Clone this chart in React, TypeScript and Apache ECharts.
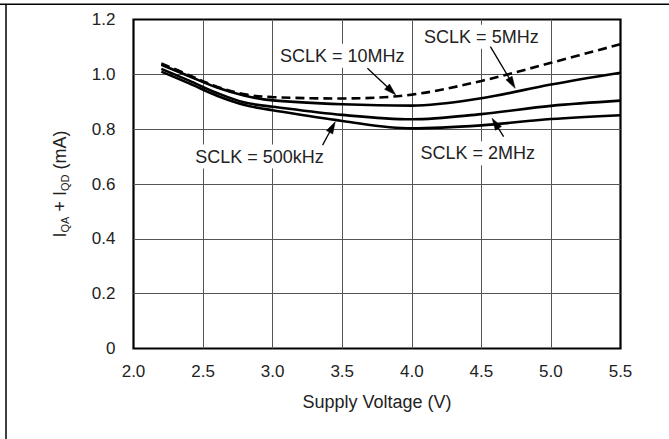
import React, { useEffect, useRef } from "react";
import * as echarts from "echarts";

const voltage = [2.2, 2.4, 2.6, 2.8, 3.0, 3.5, 4.0, 4.5, 5.0, 5.5];
const sclk10MHz = [1.04, 0.997, 0.955, 0.927, 0.917, 0.912, 0.926, 0.976, 1.042, 1.11];
const sclk5MHz = [1.035, 0.993, 0.952, 0.922, 0.905, 0.891, 0.886, 0.913, 0.963, 1.006];
const sclk2MHz = [1.02, 0.977, 0.932, 0.897, 0.882, 0.852, 0.836, 0.855, 0.885, 0.904];
const sclk500kHz = [1.01, 0.967, 0.922, 0.888, 0.869, 0.83, 0.803, 0.814, 0.837, 0.851];

const xTicks = [2.0, 2.5, 3.0, 3.5, 4.0, 4.5, 5.0, 5.5];
const yTicks = [0, 0.2, 0.4, 0.6, 0.8, 1.0, 1.2];

const annotations = [
  { text: "SCLK = 10MHz", label: [3.5, 1.068], tail: [3.681, 1.022], tip: [3.885, 0.925] },
  { text: "SCLK = 5MHz", label: [4.5, 1.137], tail: [4.565, 1.101], tip: [4.743, 0.949] },
  { text: "SCLK = 2MHz", label: [4.474, 0.712], tail: [4.66, 0.773], tip: [4.577, 0.84] },
  { text: "SCLK = 500kHz", label: [2.906, 0.7], tail: [3.359, 0.742], tip: [3.45, 0.827] },
];

const FONT = "'Liberation Sans', Arial, Helvetica, sans-serif";

function pairs(ys: number[]) {
  return voltage.map((v, i) => [v, ys[i]]);
}

export default function App() {
  const ref = useRef<HTMLDivElement>(null);
  useEffect(() => {
    document.body.style.margin = "0";
    const chart = echarts.init(ref.current as HTMLDivElement, null, { renderer: "svg" });
    const lineSeries = (name: string, ys: number[], dashed: boolean) => ({
      type: "line",
      name,
      data: pairs(ys),
      smooth: 0.35,
      showSymbol: false,
      symbol: "none",
      lineStyle: { color: "#000", width: 2.6, type: dashed ? [9, 5] : "solid" },
      z: 3,
    });
    chart.setOption({
      animation: false,
      backgroundColor: "#fff",
      grid: {
        left: 133.5,
        right: 48.5,
        top: 19.5,
        bottom: 90.5,
        show: true,
        borderColor: "#000",
        borderWidth: 2.2,
        backgroundColor: "transparent",
      },
      xAxis: {
        type: "value",
        min: 2.0,
        max: 5.5,
        interval: 0.5,
        name: "Supply Voltage (V)",
        nameLocation: "middle",
        nameGap: 44,
        nameTextStyle: { fontFamily: FONT, fontSize: 18, color: "#222" },
        axisLine: { show: false },
        axisTick: { show: false },
        axisLabel: {
          margin: 14,
          fontFamily: FONT,
          fontSize: 17,
          color: "#222",
          formatter: (v: number) => (xTicks.some((k) => Math.abs(k - v) < 1e-6) ? v.toFixed(1) : ""),
        },
        splitLine: { show: true, showMinLine: false, showMaxLine: false, lineStyle: { color: "#555", width: 1 } },
      },
      yAxis: {
        type: "value",
        min: 0,
        max: 1.2,
        interval: 0.2,
        axisLine: { show: false },
        axisTick: { show: false },
        axisLabel: {
          margin: 18,
          fontFamily: FONT,
          fontSize: 17,
          color: "#222",
          formatter: (v: number) => {
            const t = yTicks.find((k) => Math.abs(k - v) < 1e-6);
            if (t === undefined) return "";
            return t === 0 ? "0" : t.toFixed(1);
          },
        },
        splitLine: { show: true, showMinLine: false, showMaxLine: false, lineStyle: { color: "#555", width: 1 } },
      },
      series: [
        lineSeries("SCLK = 10MHz", sclk10MHz, true),
        lineSeries("SCLK = 5MHz", sclk5MHz, false),
        lineSeries("SCLK = 2MHz", sclk2MHz, false),
        lineSeries("SCLK = 500kHz", sclk500kHz, false),
      ],
    });

    const toPx = (p: number[]) => chart.convertToPixel({ gridIndex: 0 }, p) as number[];
    const elements: any[] = [];
    elements.push({
      type: "line",
      shape: { x1: 0, y1: 4.3, x2: 669, y2: 4.3 },
      style: { stroke: "#000", lineWidth: 1.5 },
      z: 50,
    });
    elements.push({
      type: "line",
      shape: { x1: 6, y1: 4.3, x2: 6, y2: 439 },
      style: { stroke: "#000", lineWidth: 1.5 },
      z: 50,
    });
    elements.push({
      type: "text",
      x: 60,
      y: 184,
      rotation: Math.PI / 2,
      z: 50,
      style: {
        text: "{m|I}{s|QA}{m| + I}{s|QD}{m| (mA)}",
        align: "center",
        verticalAlign: "middle",
        fill: "#222",
        rich: {
          m: { fontFamily: FONT, fontSize: 18, lineHeight: 20, verticalAlign: "middle", fill: "#222" },
          s: { fontFamily: FONT, fontSize: 11, lineHeight: 11, verticalAlign: "bottom", fill: "#222" },
        },
      },
    });
    annotations.forEach((a) => {
      const lp = toPx(a.label);
      const tp = toPx(a.tail);
      const hp = toPx(a.tip);
      const dx = hp[0] - tp[0];
      const dy = hp[1] - tp[1];
      const len = Math.sqrt(dx * dx + dy * dy);
      const ux = dx / len;
      const uy = dy / len;
      const headLen = 12;
      const headHalf = 3.6;
      const bx = hp[0] - ux * headLen;
      const by = hp[1] - uy * headLen;
      const nx = -uy;
      const ny = ux;
      elements.push({
        type: "text",
        x: lp[0],
        y: lp[1],
        z: 40,
        style: {
          text: a.text,
          align: "center",
          verticalAlign: "middle",
          fontFamily: FONT,
          fontSize: 18,
          fill: "#222",
          backgroundColor: "#fff",
          padding: [3, 5, 3, 5],
        },
      });
      elements.push({
        type: "line",
        z: 45,
        shape: { x1: tp[0], y1: tp[1], x2: bx + ux * 2, y2: by + uy * 2 },
        style: { stroke: "#000", lineWidth: 1.3 },
      });
      elements.push({
        type: "polygon",
        z: 45,
        shape: {
          points: [
            [hp[0], hp[1]],
            [bx + nx * headHalf, by + ny * headHalf],
            [bx - nx * headHalf, by - ny * headHalf],
          ],
        },
        style: { fill: "#000", stroke: "#000", lineWidth: 0.5 },
      });
    });
    chart.setOption({ graphic: elements });
    return () => chart.dispose();
  }, []);
  return <div ref={ref} style={{ width: 669, height: 439 }} />;
}
